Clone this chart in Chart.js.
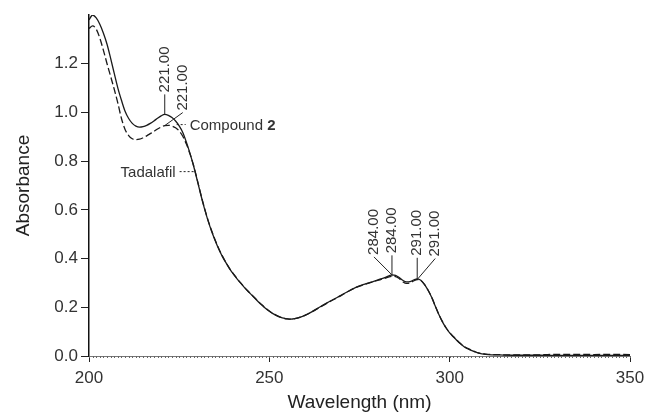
<!DOCTYPE html>
<html>
<head>
<meta charset="utf-8">
<script src="https://cdn.jsdelivr.net/npm/chart.js@4.4.1/dist/chart.umd.min.js"></script>
<style>
  html, body { margin: 0; padding: 0; background: #fff; }
  #wrap { width: 647px; height: 418px; }
</style>
</head>
<body>
<div id="wrap"><canvas id="uvChart" width="647" height="418"></canvas></div>
<script>
// UV spectra, wavelength (nm) vs absorbance
const wavelengths = [
  200, 201, 202, 203, 204, 205, 206, 207, 208, 209,
  210, 211, 212, 213, 214, 215, 216, 217, 218, 219,
  220, 221, 222, 223, 224, 225, 226, 227, 228, 229,
  230, 231, 232, 233, 234, 235, 236, 237, 238, 239,
  240, 241, 242, 243, 244, 245, 246, 247, 248, 249,
  250, 251, 252, 253, 254, 255, 256, 257, 258, 259,
  260, 262, 264, 266, 268, 270, 272, 274, 276, 278,
  280, 282, 283, 284, 285, 286, 287, 288, 289, 290,
  291, 292, 293, 294, 295, 296, 297, 298, 299, 300,
  301, 302, 303, 304, 305, 306, 307, 308, 310, 315,
  320, 325, 330, 335, 340, 345, 350
];

// solid line
const tadalafil = [
  1.380, 1.400, 1.388, 1.362, 1.325, 1.280, 1.222, 1.160, 1.100, 1.050,
  1.005, 0.975, 0.955, 0.944, 0.940, 0.942, 0.947, 0.955, 0.965, 0.976,
  0.986, 0.992, 0.988, 0.979, 0.965, 0.945, 0.918, 0.878, 0.832, 0.780,
  0.722, 0.662, 0.606, 0.556, 0.512, 0.473, 0.438, 0.408, 0.382, 0.358,
  0.337, 0.318, 0.300, 0.283, 0.267, 0.252, 0.237, 0.222, 0.208, 0.195,
  0.184, 0.174, 0.166, 0.160, 0.155, 0.152, 0.151, 0.153, 0.157, 0.162,
  0.168, 0.183, 0.201, 0.218, 0.234, 0.250, 0.267, 0.282, 0.293, 0.302,
  0.312, 0.322, 0.328, 0.333, 0.331, 0.322, 0.311, 0.304, 0.305, 0.312,
  0.317, 0.311, 0.294, 0.270, 0.241, 0.205, 0.170, 0.140, 0.115, 0.095,
  0.079, 0.064, 0.050, 0.038, 0.030, 0.023, 0.017, 0.012, 0.007, 0.004,
  0.003, 0.003, 0.002, 0.002, 0.002, 0.002, 0.002
];

// dashed line
const compound2 = [
  1.345, 1.355, 1.342, 1.305, 1.255, 1.200, 1.148, 1.095, 1.038, 0.975,
  0.930, 0.905, 0.892, 0.888, 0.890, 0.896, 0.904, 0.913, 0.922, 0.932,
  0.940, 0.946, 0.947, 0.944, 0.937, 0.924, 0.902, 0.870, 0.830, 0.782,
  0.724, 0.664, 0.608, 0.558, 0.514, 0.475, 0.440, 0.410, 0.383, 0.359,
  0.338, 0.319, 0.301, 0.284, 0.268, 0.253, 0.238, 0.223, 0.209, 0.196,
  0.185, 0.175, 0.167, 0.160, 0.155, 0.152, 0.151, 0.153, 0.157, 0.162,
  0.168, 0.183, 0.200, 0.217, 0.233, 0.249, 0.266, 0.281, 0.292, 0.301,
  0.310, 0.319, 0.324, 0.327, 0.326, 0.318, 0.305, 0.298, 0.300, 0.308,
  0.314, 0.310, 0.294, 0.271, 0.242, 0.206, 0.171, 0.141, 0.116, 0.096,
  0.080, 0.065, 0.051, 0.039, 0.031, 0.024, 0.018, 0.013, 0.008, 0.005,
  0.004, 0.005, 0.007, 0.007, 0.006, 0.007, 0.006
];

const xTicks = [200, 250, 300, 350];
const yTicks = [0.0, 0.2, 0.4, 0.6, 0.8, 1.0, 1.2];

// peak marks: wavelength, which curve, text
const peakWl = [221, 221, 284, 284, 291, 291];
const peakSeries = ["t", "c", "t", "c", "t", "c"];
const peakText = ["221.00", "221.00", "284.00", "284.00", "291.00", "291.00"];

// curve names with a dotted pointer
const noteText = ["Compound ", "Tadalafil"];
const noteWl = [224.3, 229];
const noteVal = [0.95, 0.757];

const FONT = '"Liberation Sans", Arial, Helvetica, sans-serif';

function toPoints(values) {
  return wavelengths.map((w, i) => ({ x: w, y: values[i] }));
}

// little ticks every nm under the x axis
const minorTicks = {
  id: "minorTicks",
  afterDraw(chart) {
    const { ctx, scales: { x }, chartArea } = chart;
    ctx.save();
    ctx.strokeStyle = "#666";
    ctx.lineWidth = 1;
    for (let w = 200; w <= 350; w++) {
      const px = Math.round(x.getPixelForValue(w)) + 0.5;
      ctx.beginPath();
      ctx.moveTo(px, chartArea.bottom);
      ctx.lineTo(px, chartArea.bottom + 2);
      ctx.stroke();
    }
    ctx.restore();
  }
};

const labels = {
  id: "labels",
  afterDatasetsDraw(chart) {
    const { ctx, scales: { x, y } } = chart;
    const offsets = [[0, -20], [18, -13], [-18, -18], [0, -21], [0, -21], [18, -21]];
    ctx.save();
    ctx.strokeStyle = "#222";
    ctx.fillStyle = "#333";
    ctx.lineWidth = 1;
    ctx.font = "15px " + FONT;
    peakWl.forEach((wl, i) => {
      const series = peakSeries[i] === "t" ? tadalafil : compound2;
      const v = series[wavelengths.indexOf(wl)];
      const px = x.getPixelForValue(wl);
      const py = y.getPixelForValue(v);
      const tx = px + offsets[i][0];
      const ty = py + offsets[i][1];
      ctx.beginPath();
      ctx.moveTo(px, py);
      ctx.lineTo(tx, ty);
      ctx.stroke();
      ctx.save();
      ctx.translate(tx, ty - 2);
      ctx.rotate(-Math.PI / 2);
      ctx.textAlign = "left";
      ctx.textBaseline = "middle";
      ctx.fillText(peakText[i], 0, 0);
      ctx.restore();
    });

    // Compound 2
    ctx.setLineDash([2, 2]);
    let px = x.getPixelForValue(noteWl[0]);
    let py = y.getPixelForValue(noteVal[0]);
    ctx.beginPath();
    ctx.moveTo(px, py);
    ctx.lineTo(px + 9, py);
    ctx.stroke();
    ctx.textBaseline = "middle";
    ctx.textAlign = "left";
    ctx.fillText(noteText[0], px + 13, py + 1);
    const w0 = ctx.measureText(noteText[0]).width;
    ctx.font = "bold 15px " + FONT;
    ctx.fillText("2", px + 13 + w0, py + 1);

    // Tadalafil
    ctx.font = "15px " + FONT;
    px = x.getPixelForValue(noteWl[1]);
    py = y.getPixelForValue(noteVal[1]);
    ctx.beginPath();
    ctx.moveTo(px, py);
    ctx.lineTo(px - 15, py);
    ctx.stroke();
    ctx.textAlign = "right";
    ctx.fillText(noteText[1], px - 18, py + 1);
    ctx.restore();
  }
};

const ctx = document.getElementById("uvChart").getContext("2d");
new Chart(ctx, {
  type: "line",
  data: {
    datasets: [
      {
        label: "Tadalafil",
        data: toPoints(tadalafil),
        borderColor: "#1a1a1a",
        borderWidth: 1.3,
        pointRadius: 0,
        cubicInterpolationMode: "monotone",
        fill: false
      },
      {
        label: "Compound 2",
        data: toPoints(compound2),
        borderColor: "#1a1a1a",
        borderWidth: 1.3,
        borderDash: [7, 3],
        pointRadius: 0,
        cubicInterpolationMode: "monotone",
        fill: false
      }
    ]
  },
  options: {
    responsive: false,
    animation: false,
    layout: { padding: { top: 15, right: 17, left: 0, bottom: 0 } },
    plugins: {
      legend: { display: false },
      tooltip: { enabled: false }
    },
    scales: {
      x: {
        type: "linear",
        min: 200,
        max: 350,
        afterBuildTicks: (s) => { s.ticks = xTicks.map(v => ({ value: v })); },
        afterFit: (s) => { s.height = 62; s.paddingLeft = 0; s.paddingRight = 0; },
        grid: { drawOnChartArea: false, tickLength: 6, color: "#222", lineWidth: 1 },
        border: { color: "#777", width: 1 },
        ticks: {
          color: "#333",
          font: { family: FONT, size: 17 },
          padding: 6,
          maxRotation: 0
        },
        title: {
          display: true,
          text: "Wavelength (nm)",
          color: "#222",
          font: { family: FONT, size: 19 },
          padding: { top: 0, bottom: 4 }
        }
      },
      y: {
        min: 0,
        max: 1.4,
        afterBuildTicks: (s) => { s.ticks = yTicks.map(v => ({ value: v })); },
        afterFit: (s) => { s.width = 89; },
        grid: { drawOnChartArea: false, tickLength: 8, color: "#222", lineWidth: 1 },
        border: { color: "#111", width: 1.5 },
        ticks: {
          color: "#333",
          font: { family: FONT, size: 17 },
          padding: 3,
          callback: (v) => v.toFixed(1)
        },
        title: {
          display: true,
          text: "Absorbance",
          color: "#222",
          font: { family: FONT, size: 19 },
          padding: { top: 12, bottom: 0 }
        }
      }
    }
  },
  plugins: [minorTicks, labels]
});
</script>
</body>
</html>
